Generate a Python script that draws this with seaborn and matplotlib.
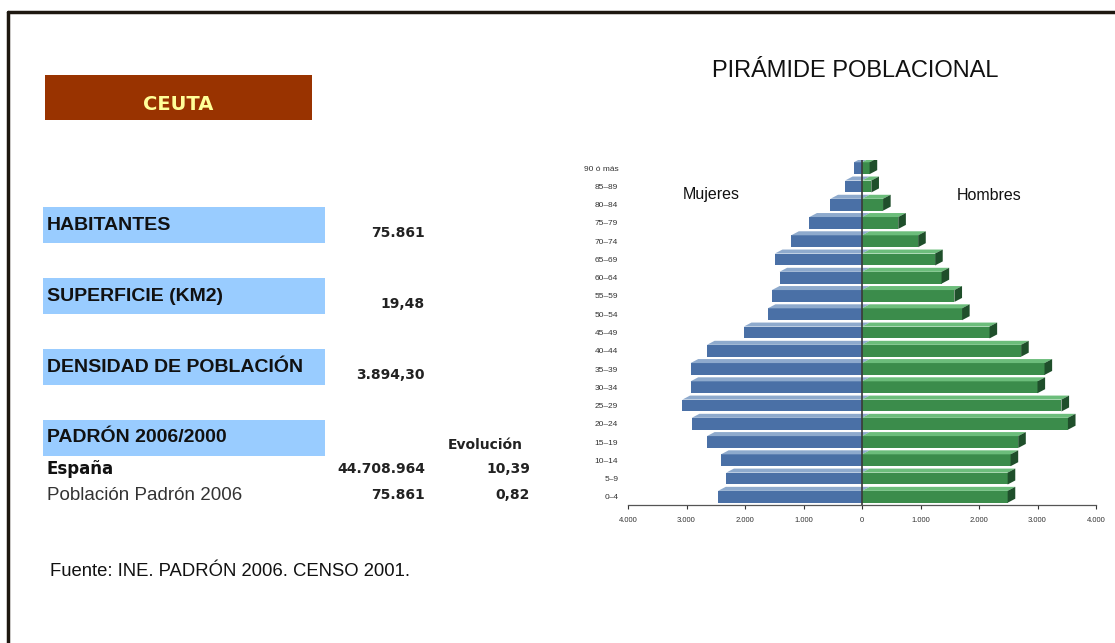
import pandas as pd
import matplotlib
matplotlib.use('Agg')
import matplotlib.pyplot as plt
from matplotlib.patches import Rectangle, Polygon
from matplotlib.lines import Line2D
from matplotlib.ticker import FuncFormatter
import seaborn as sns

# Datos de la pirámide (de arriba abajo)
grupos = ['90 ó más', '85–89', '80–84', '75–79', '70–74', '65–69', '60–64',
          '55–59', '50–54', '45–49', '40–44', '35–39', '30–34', '25–29',
          '20–24', '15–19', '10–14', '5–9', '0–4']
mujeres = [140, 290, 540, 900, 1210, 1490, 1410, 1540, 1610, 2020, 2650,
           2930, 2930, 3070, 2910, 2650, 2410, 2320, 2460]
hombres = [130, 160, 360, 620, 960, 1250, 1360, 1580, 1710, 2180, 2720,
           3120, 3000, 3410, 3520, 2670, 2540, 2490, 2490]

# Tabla de la izquierda
indicadores = ['HABITANTES', 'SUPERFICIE (KM2)', 'DENSIDAD DE POBLACIÓN', 'PADRÓN 2006/2000']
valores_ind = ['75.861', '19,48', '3.894,30', '']
filas_padron = ['España', 'Población Padrón 2006']
padron_pob = ['44.708.964', '75.861']
padron_evol = ['10,39', '0,82']

W, H = 1115, 643
sns.set_theme(style='white')
plt.rcParams['font.family'] = ['Liberation Sans', 'DejaVu Sans']

fig = plt.figure(figsize=(W / 100, H / 100), dpi=100)
fig.patch.set_facecolor('white')


def px(x, y):
    return x / W, 1 - y / H


# Marco
fig.add_artist(Line2D([8 / W, 1], [1 - 12 / H, 1 - 12 / H], color='#1e1810', lw=2.5))
fig.add_artist(Line2D([8 / W, 8 / W], [0, 1 - 12 / H], color='#1e1810', lw=2.5))

# Cabecera CEUTA
x0, y0 = px(45, 120)
fig.add_artist(Rectangle((x0, y0), 267 / W, 45 / H, transform=fig.transFigure,
                         facecolor='#993300', edgecolor='none'))
fig.text(*px(178, 105), 'CEUTA', color='#ffff99', fontsize=14, fontweight='bold',
         family='DejaVu Sans', ha='center', va='center')

# Cajas azules
tops = [207, 278, 349, 420]
for nombre, valor, t in zip(indicadores, valores_ind, tops):
    bx, by = px(43, t + 36)
    fig.add_artist(Rectangle((bx, by), 282 / W, 36 / H, transform=fig.transFigure,
                             facecolor='#99ccff', edgecolor='none'))
    fig.text(*px(47, t + 18), nombre, fontsize=14, fontweight='bold', color='#111111',
             ha='left', va='center')
    if valor:
        fig.text(*px(425, t + 26), valor, fontsize=10, fontweight='bold', color='#222222',
                 family='DejaVu Sans', ha='right', va='center')

fig.text(*px(523, 445), 'Evolución', fontsize=10, fontweight='bold', color='#222222',
         family='DejaVu Sans', ha='right', va='center')
ys = [469, 495]
for i, (fila, pob, ev) in enumerate(zip(filas_padron, padron_pob, padron_evol)):
    if i == 0:
        fig.text(*px(47, ys[i]), fila, fontsize=12, fontweight='bold', color='#111111',
                 family='DejaVu Sans', ha='left', va='center')
    else:
        fig.text(*px(47, ys[i]), fila, fontsize=13.5, color='#333333',
                 ha='left', va='center')
    fig.text(*px(425, ys[i]), pob, fontsize=10, fontweight='bold', color='#222222',
             family='DejaVu Sans', ha='right', va='center')
    fig.text(*px(530, ys[i]), ev, fontsize=10, fontweight='bold', color='#222222',
             family='DejaVu Sans', ha='right', va='center')

fig.text(*px(50, 572), 'Fuente: INE. PADRÓN 2006. CENSO 2001.', fontsize=13.3,
         color='#111111', ha='left', va='center')

# Pirámide
fig.text(*px(855, 71), 'PIRÁMIDE POBLACIONAL', fontsize=17, color='#111111',
         ha='center', va='center')

ax = fig.add_axes([628 / W, 1 - 505 / H, 468 / W, 345 / H])
df = pd.DataFrame({'grupo': grupos,
                   'mujeres': [-v for v in mujeres],
                   'hombres': hombres})

sns.barplot(data=df, x='mujeres', y='grupo', order=grupos, color='#4a70a6',
            saturation=1, width=0.65, ax=ax, edgecolor='none')
n_m = len(ax.patches)
sns.barplot(data=df, x='hombres', y='grupo', order=grupos, color='#3b8c4b',
            saturation=1, width=0.65, ax=ax, edgecolor='none')

# efecto 3D: cara superior y lateral
dx, dy = 130, 0.22
for k, p in enumerate(ax.patches[:]):
    xa = min(p.get_x(), p.get_x() + p.get_width())
    xb = max(p.get_x(), p.get_x() + p.get_width())
    yt = min(p.get_y(), p.get_y() + p.get_height())
    yb = max(p.get_y(), p.get_y() + p.get_height())
    es_m = k < n_m
    top_c = '#8eaacd' if es_m else '#6cbd7b'
    z = 2 if es_m else 3
    p.set_zorder(z)
    ax.add_patch(Polygon([(xa, yt), (xb, yt), (xb + dx, yt - dy), (xa + dx, yt - dy)],
                         closed=True, facecolor=top_c, edgecolor='none', zorder=z))
    if not es_m:
        ax.add_patch(Polygon([(xb, yt), (xb + dx, yt - dy), (xb + dx, yb - dy), (xb, yb)],
                             closed=True, facecolor='#1f4f2b', edgecolor='none', zorder=z))

ax.axvline(0, color='#3a3a3a', lw=1.2, zorder=5)
ax.set_xlim(-4000, 4000)
ax.set_ylim(len(grupos) - 0.55, -0.45)
ax.set_xticks(range(-4000, 4001, 1000))
ax.xaxis.set_major_formatter(FuncFormatter(lambda v, pos: f'{abs(int(v)):,}'.replace(',', '.')))
ax.tick_params(axis='x', labelsize=5.5, colors='#333333', length=3, width=0.8,
               direction='out', bottom=True, pad=6)
ax.tick_params(axis='y', labelsize=6, colors='#333333', length=0, pad=7)
ax.set_xlabel('')
ax.set_ylabel('')
for s in ['left', 'top', 'right']:
    ax.spines[s].set_visible(False)
ax.spines['bottom'].set_color('#555555')
ax.spines['bottom'].set_linewidth(0.9)
ax.patch.set_alpha(0)

fig.text(*px(711, 195), 'Mujeres', fontsize=11.5, color='#111111', ha='center', va='center')
fig.text(*px(989, 195), 'Hombres', fontsize=11.5, color='#111111', ha='center', va='center')

fig.savefig('out.png', dpi=100)
